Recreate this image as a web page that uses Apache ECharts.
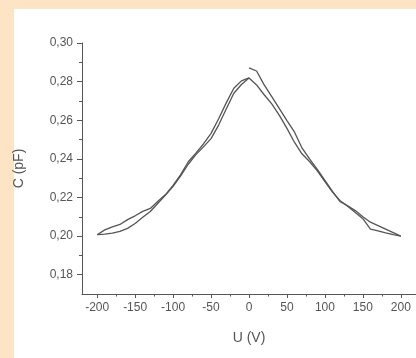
<!DOCTYPE html>
<html>
<head>
<meta charset="utf-8">
<script src="https://cdn.jsdelivr.net/npm/echarts@6/dist/echarts.min.js"></script>
<style>
  html, body { margin: 0; padding: 0; background: #fde4c4; }
  #panel { position: absolute; left: 14px; top: 9px; width: 402px; height: 349px; background: #ffffff; }
  #chart { position: absolute; left: 0; top: 0; width: 416px; height: 358px; }
</style>
</head>
<body>
<div id="panel"></div>
<div id="chart"></div>
<script>
// Sweep 1: 0 V -> +200 V
const upU = [0, 10, 20, 30, 40, 50, 60, 70, 80, 90, 100, 110, 120, 130, 140, 150, 160, 170, 180, 190, 200];
const upC = [0.2871, 0.2855, 0.2783, 0.2722, 0.2660, 0.2598, 0.2538, 0.2455, 0.2398, 0.2345, 0.2288, 0.2232, 0.2178, 0.2157, 0.2132, 0.2100, 0.2072, 0.2054, 0.2036, 0.2018, 0.2000];
// Sweep 2: +200 V -> -200 V
const downU = [200, 190, 180, 170, 160, 150, 140, 130, 120, 110, 100, 90, 80, 70, 60, 50, 40, 30, 20, 10, 0,
  -10, -20, -30, -40, -50, -60, -70, -80, -90, -100, -110, -120, -130, -140, -150, -160, -170, -180, -190, -200];
const downC = [0.2000, 0.2007, 0.2016, 0.2027, 0.2036, 0.2090, 0.2122, 0.2155, 0.2183, 0.2228, 0.2282, 0.2338, 0.2385, 0.2425, 0.2485, 0.2558, 0.2625, 0.2685, 0.2732, 0.2783, 0.2819,
  0.2804, 0.2766, 0.2690, 0.2608, 0.2532, 0.2477, 0.2430, 0.2385, 0.2318, 0.2262, 0.2215, 0.2180, 0.2143, 0.2128, 0.2105, 0.2085, 0.2060, 0.2048, 0.2032, 0.2007];
// Sweep 3: -200 V -> 0 V
const backU = [-200, -190, -180, -170, -160, -150, -140, -130, -120, -110, -100, -90, -80, -70, -60, -50, -40, -30, -20, -10, 0];
const backC = [0.2007, 0.2010, 0.2015, 0.2024, 0.2040, 0.2065, 0.2097, 0.2127, 0.2170, 0.2212, 0.2258, 0.2312, 0.2372, 0.2422, 0.2462, 0.2505, 0.2575, 0.2658, 0.2740, 0.2785, 0.2819];

const xMajor = [-200, -150, -100, -50, 0, 50, 100, 150, 200];
const xMinor = [-175, -125, -75, -25, 25, 75, 125, 175];
const yMajor = [0.18, 0.20, 0.22, 0.24, 0.26, 0.28, 0.30];
const yMinor = [0.19, 0.21, 0.23, 0.25, 0.27, 0.29];

const xName = 'U (V)';
const yName = 'C (pF)';

const pairs = (u, c) => u.map((v, i) => [v, c[i]]);
const axisColor = '#555';
const textColor = '#555';
const font = 'Liberation Sans, Arial, sans-serif';

const chart = echarts.init(document.getElementById('chart'), null, { renderer: 'canvas' });
chart.setOption({
  backgroundColor: 'transparent',
  animation: false,
  grid: { left: 82, top: 43, width: 341, height: 251 },
  xAxis: [{
    type: 'value', min: -220, max: 220,
    name: xName, nameLocation: 'middle', nameGap: 37,
    nameTextStyle: { fontSize: 14, color: textColor, fontFamily: font },
    axisLine: { show: true, onZero: false, lineStyle: { color: axisColor, width: 1 } },
    axisTick: { show: true, length: 4, customValues: xMajor, lineStyle: { color: axisColor, width: 1 } },
    axisLabel: { customValues: xMajor, margin: 8, fontSize: 12, color: textColor, fontFamily: font },
    splitLine: { show: false }
  }, {
    type: 'value', min: -220, max: 220, position: 'bottom', offset: 0,
    axisLine: { show: false, onZero: false },
    axisTick: { show: true, length: 2.5, customValues: xMinor, lineStyle: { color: axisColor, width: 1 } },
    axisLabel: { show: false },
    splitLine: { show: false }
  }],
  yAxis: [{
    type: 'value', min: 0.17, max: 0.30,
    name: yName, nameLocation: 'middle', nameGap: 56, nameRotate: 90,
    nameTextStyle: { fontSize: 14, color: textColor, fontFamily: font },
    axisLine: { show: true, onZero: false, lineStyle: { color: axisColor, width: 1 } },
    axisTick: { show: true, length: 5, customValues: yMajor, lineStyle: { color: axisColor, width: 1 } },
    axisLabel: { customValues: yMajor, margin: 9, fontSize: 12, color: textColor, fontFamily: font,
      formatter: v => v.toFixed(2).replace('.', ',') },
    splitLine: { show: false }
  }, {
    type: 'value', min: 0.17, max: 0.30, position: 'left', offset: 0,
    axisLine: { show: false, onZero: false },
    axisTick: { show: true, length: 3, customValues: yMinor, lineStyle: { color: axisColor, width: 1 } },
    axisLabel: { show: false },
    splitLine: { show: false }
  }],
  series: [
    { type: 'line', data: pairs(upU, upC), showSymbol: false, lineStyle: { color: '#555', width: 1.3 } },
    { type: 'line', data: pairs(downU, downC), showSymbol: false, lineStyle: { color: '#555', width: 1.3 } },
    { type: 'line', data: pairs(backU, backC), showSymbol: false, lineStyle: { color: '#555', width: 1.3 } }
  ]
});
</script>
</body>
</html>
